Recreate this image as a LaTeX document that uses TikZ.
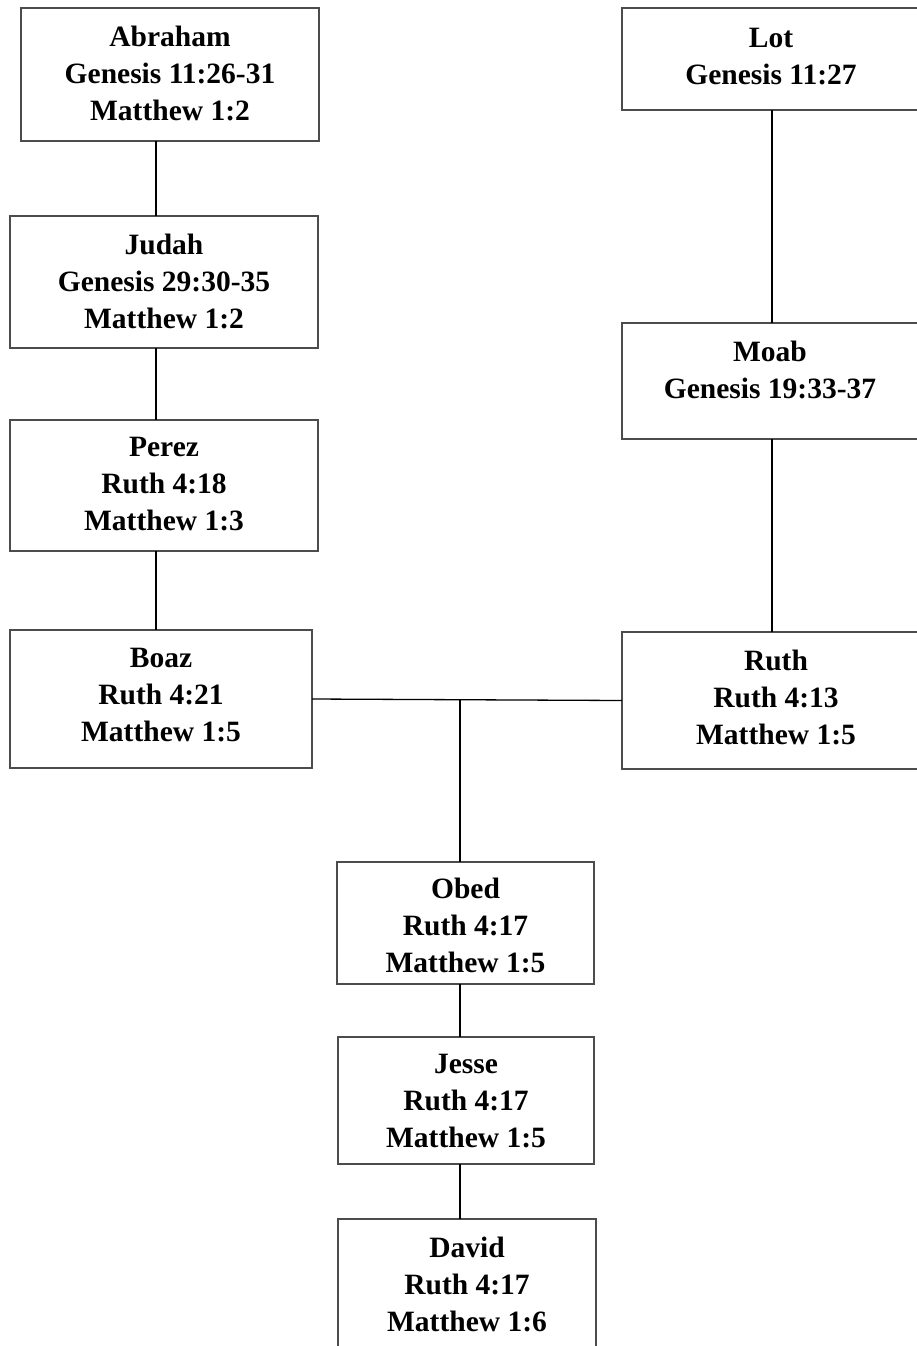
\documentclass[tikz,border=0pt]{standalone}
\usepackage{fontspec}
\setmainfont{Liberation Serif}
\definecolor{boxgray}{gray}{0.3}
\begin{document}
\begin{tikzpicture}[x=1pt, y=-1pt,
        box/.style={draw=boxgray, line width=1.3pt, inner sep=0, outer sep=0, anchor=north west},
        txt/.style={anchor=north, inner sep=0, align=center, font=\fontsize{29.5}{37}\selectfont\bfseries},
        link/.style={line width=1.3pt}]
        \useasboundingbox (0,0) rectangle (916,1346);
        \node [box, minimum width=298, minimum height=133] (abraham) at (21, 8) {};
        \node [box, minimum width=298, minimum height=102] (lot) at (622, 8) {};
        \node [box, minimum width=308, minimum height=132] (judah) at (10, 216) {};
        \node [box, minimum width=298, minimum height=116] (moab) at (622, 323) {};
        \node [box, minimum width=308, minimum height=131] (perez) at (10, 420) {};
        \node [box, minimum width=302, minimum height=138] (boaz) at (10, 630) {};
        \node [box, minimum width=308, minimum height=137] (ruth) at (622, 632) {};
        \node [box, minimum width=257, minimum height=122] (obed) at (337, 862) {};
        \node [box, minimum width=256, minimum height=127] (jesse) at (338, 1037) {};
        \node [box, minimum width=258, minimum height=140] (david) at (338, 1219) {};
        \node [txt] (abraham-t) at (170, 25.8) {Abraham\\Genesis 11:26-31\\Matthew 1:2};
        \node [txt] (lot-t) at (771, 28.3) {Lot\\Genesis 11:27};
        \node [txt] (judah-t) at (164, 233.8) {Judah\\Genesis 29:30-35\\Matthew 1:2};
        \node [txt] (moab-t) at (770, 340.8) {Moab\\Genesis 19:33-37};
        \node [txt] (perez-t) at (164, 436.8) {Perez\\Ruth 4:18\\Matthew 1:3};
        \node [txt] (boaz-t) at (161, 647.8) {Boaz\\Ruth 4:21\\Matthew 1:5};
        \node [txt] (ruth-t) at (776, 649.8) {Ruth\\Ruth 4:13\\Matthew 1:5};
        \node [txt] (obed-t) at (465.5, 877.8) {Obed\\Ruth 4:17\\Matthew 1:5};
        \node [txt] (jesse-t) at (466, 1053.8) {Jesse\\Ruth 4:17\\Matthew 1:5};
        \node [txt] (david-t) at (467, 1236.8) {David\\Ruth 4:17\\Matthew 1:6};
        \coordinate (leftline) at (156, 0);
        \coordinate (rightline) at (772, 0);
        \coordinate (midline) at (460, 0);
        \coordinate (wed) at (460, 699.7);
        \draw [link] (abraham.south -| leftline) -- (judah.north -| leftline);
        \draw [link] (judah.south -| leftline) -- (perez.north -| leftline);
        \draw [link] (perez.south -| leftline) -- (boaz.north -| leftline);
        \draw [link] (lot.south -| rightline) -- (moab.north -| rightline);
        \draw [link] (moab.south -| rightline) -- (ruth.north -| rightline);
        \draw [link] (boaz.east) -- (ruth.west);
        \draw [link] (wed) -- (obed.north -| wed);
        \draw [link] (obed.south -| midline) -- (jesse.north -| midline);
        \draw [link] (jesse.south -| midline) -- (david.north -| midline);
    \end{tikzpicture}
\end{document}
